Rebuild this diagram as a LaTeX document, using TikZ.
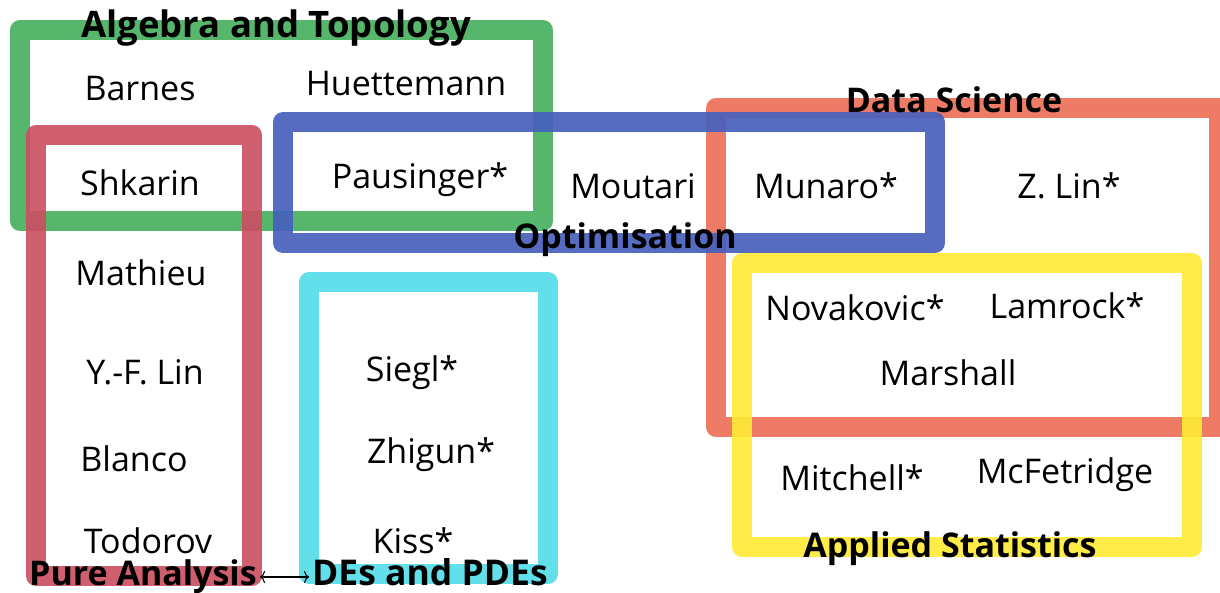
\documentclass[tikz,border=0pt]{standalone}
\usepackage{fontspec}
\setmainfont{Open Sans}
\usetikzlibrary{positioning}
\usetikzlibrary{arrows.meta}
\definecolor{col_green}{RGB}{70,176,95}
\definecolor{col_red}{RGB}{203,80,98}
\definecolor{col_blue}{RGB}{72,96,188}
\definecolor{col_cyan}{RGB}{85,220,232}
\definecolor{col_orange}{RGB}{236,112,88}
\definecolor{col_yellow}{RGB}{255,234,55}
\tikzset{
        groupbox/.style={line width=20pt, line join=round, draw opacity=0.92},
        % Research group frames
        box_algebra/.style={groupbox, draw=col_green},
        box_pure/.style={groupbox, draw=col_red},
        box_optim/.style={groupbox, draw=col_blue},
        box_des/.style={groupbox, draw=col_cyan},
        box_data/.style={groupbox, draw=col_orange},
        box_stats/.style={groupbox, draw=col_yellow},
        % Staff names
        person/.style={anchor=base, inner sep=0pt, font=\fontsize{34}{40}\selectfont},
        % Group titles
        group_title/.style={anchor=base, inner sep=0pt, font=\fontsize{34}{40}\selectfont\bfseries}
}
\begin{document}
\begin{tikzpicture}[x=1pt, y=-1pt]
            \useasboundingbox (0,0) rectangle (1220,592);
            % frames
            \draw[box_data] (716,108) rectangle (1219,427);
            \draw[box_algebra] (20,30) rectangle (543,221);
            \draw[box_pure] (36,135) rectangle (252,576);
            \draw[box_optim] (283,122) rectangle (935,243);
            \draw[box_des] (309,282) rectangle (548,574);
            \draw[box_stats] (742,263) rectangle (1192,547);
            % names
            \node[person] (barnes) at (140,100) {Barnes};
            \node[person] (huettemann) at (406,95) {Huettemann};
            \node[person] (shkarin) at (140,195) {Shkarin};
            \node[person] (pausinger) at (420,188) {Pausinger*};
            \node[person] (moutari) at (633,198) {Moutari};
            \node[person] (munaro) at (826,198) {Munaro*};
            \node[person] (zlin) at (1069,198) {Z. Lin*};
            \node[person] (mathieu) at (141,285) {Mathieu};
            \node[person] (yflin) at (145,384) {Y.-F. Lin};
            \node[person] (blanco) at (134,471) {Blanco};
            \node[person] (todorov) at (148,553) {Todorov};
            \node[person] (siegl) at (412,381) {Siegl*};
            \node[person] (zhigun) at (431,463) {Zhigun*};
            \node[person] (kiss) at (413,553) {Kiss*};
            \node[person] (novakovic) at (855,320) {Novakovic*};
            \node[person] (lamrock) at (1067,318) {Lamrock*};
            \node[person] (marshall) at (948,385) {Marshall};
            \node[person] (mitchell) at (852,490) {Mitchell*};
            \node[person] (mcfetridge) at (1065,483) {McFetridge};
            % titles
            \node[group_title, font=\fontsize{36.5}{42}\selectfont\bfseries] (algebra) at (276,37) {Algebra and Topology};
            \node[group_title] (optim) at (625,248) {Optimisation};
            \node[group_title] (data) at (954,112) {Data Science};
            \node[group_title] (stats) at (950,557) {Applied Statistics};
            \node[group_title] (pure) at (143,585) {Pure Analysis};
            \node[group_title, font=\fontsize{35.5}{42}\selectfont\bfseries] (des) at (430,585) {DEs and PDEs};
            \draw[{To[length=5pt,width=12pt]}-{To[length=5pt,width=12pt]}, line width=1.1pt, shorten <=3pt, shorten >=3pt] ([yshift=8pt]pure.base east) -- ([yshift=8pt]des.base west);
\end{tikzpicture}
\end{document}
